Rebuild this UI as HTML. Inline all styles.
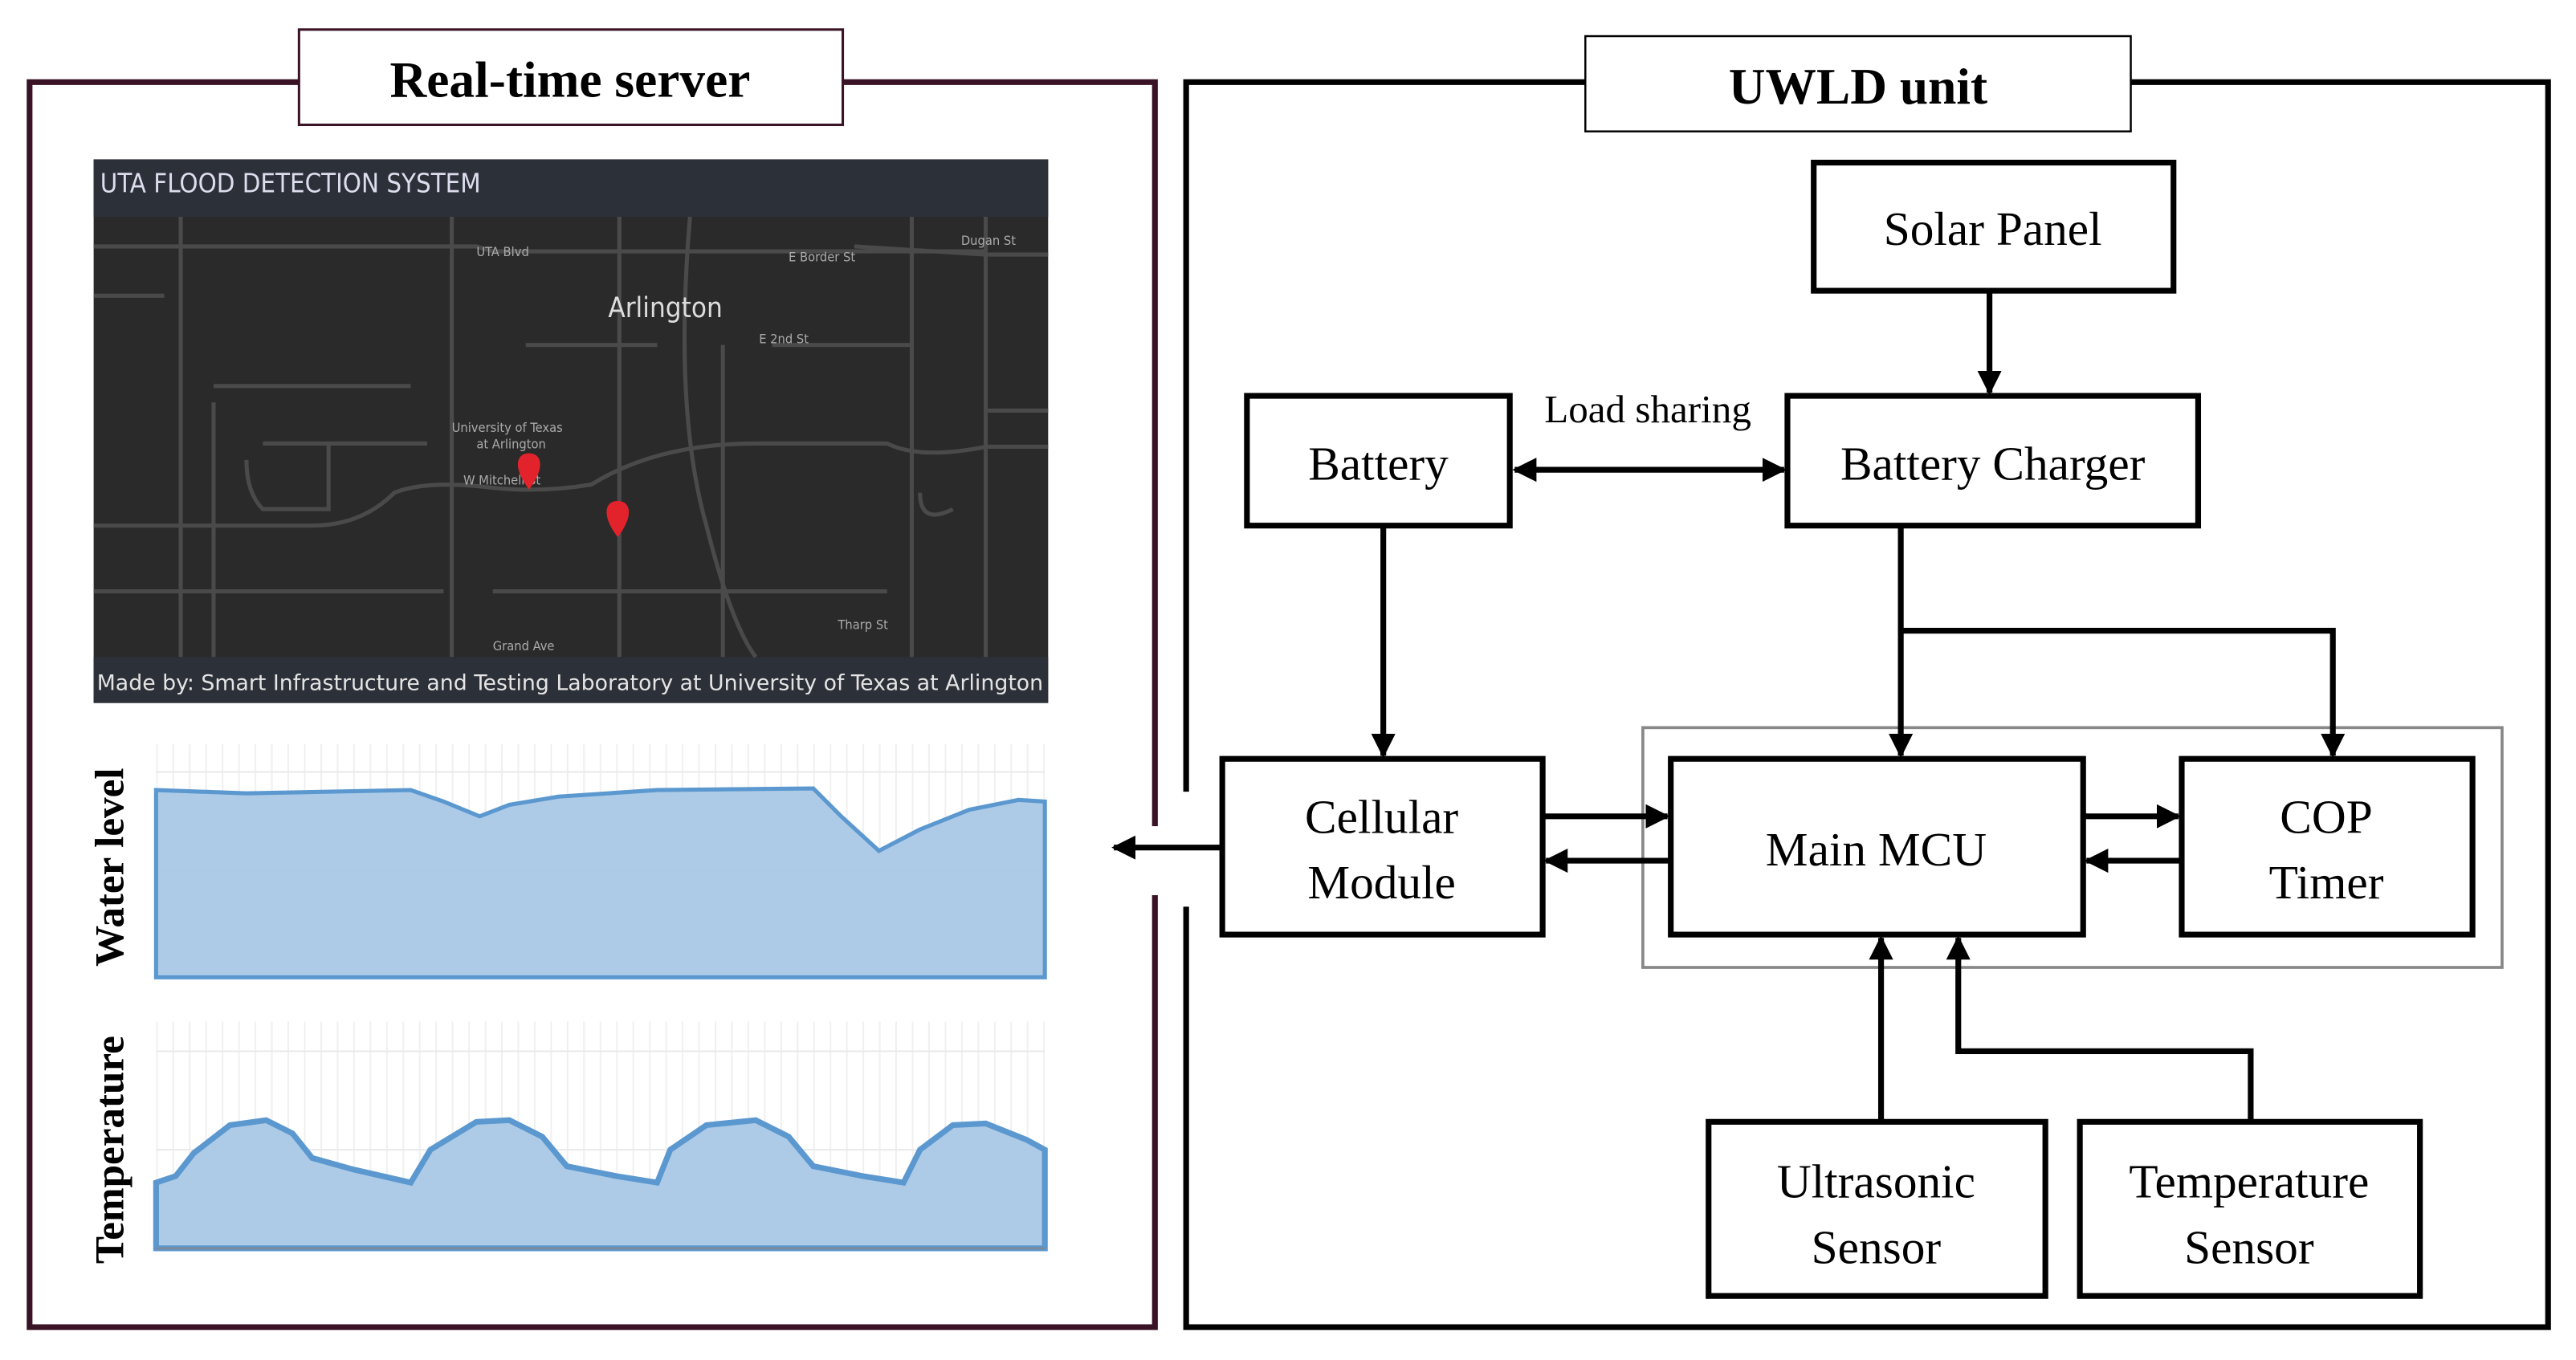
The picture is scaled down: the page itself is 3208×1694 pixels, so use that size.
<!DOCTYPE html>
<html><head><meta charset="utf-8"><style>html,body{margin:0;padding:0;background:#fff}svg{display:block}</style></head>
<body>
<svg width="3208" height="1694" viewBox="0 0 1568 828" preserveAspectRatio="none" xmlns="http://www.w3.org/2000/svg">
<defs>
<marker id="ah" viewBox="0 0 10 10" refX="9" refY="5" markerWidth="4.2" markerHeight="4.2" orient="auto-start-reverse" markerUnits="strokeWidth"><path d="M0,0 L10,5 L0,10 z" fill="#000"/></marker>
<pattern id="vg" x="95" y="0" width="10" height="828" patternUnits="userSpaceOnUse"><line x1="0.5" y1="0" x2="0.5" y2="828" stroke="#f0f0f0" stroke-width="1"/></pattern>
</defs>
<rect width="1568" height="828" fill="#fff"/>
<rect x="18" y="50" width="685" height="758" fill="none" stroke="#3a1426" stroke-width="3.5"/>
<rect x="700" y="503" width="8" height="42" fill="#fff"/>
<rect x="182" y="18" width="331" height="58" fill="#fff" stroke="#3a1426" stroke-width="1.5"/>
<text x="347" y="59" font-family="Liberation Serif, serif" font-weight="bold" font-size="31" text-anchor="middle">Real-time server</text>
<rect x="57" y="97" width="581" height="331" fill="#2a2a2a"/>
<rect x="57" y="97" width="581" height="35" fill="#2c3038"/>
<rect x="57" y="400" width="581" height="28" fill="#2c3038"/>
<text x="61" y="117" font-family="DejaVu Sans Condensed, DejaVu Sans, sans-serif" font-size="16" fill="#dde">UTA FLOOD DETECTION SYSTEM</text>
<text x="59" y="420" font-family="DejaVu Sans Condensed, DejaVu Sans, sans-serif" font-size="13.2" fill="#e4e4e4" textLength="576" lengthAdjust="spacingAndGlyphs">Made by: Smart Infrastructure and Testing Laboratory at University of Texas at Arlington</text>
<g stroke="#4a4a4a" stroke-width="2.5" fill="none">
<path d="M57 150 H290 L300 153 H600 M520 150 L600 155 H638"/>
<path d="M57 320 H190 Q220 320 240 300 Q260 292 300 297 Q330 300 360 295 Q400 270 460 270 H540 Q560 280 600 272 H638"/>
<path d="M110 132 V400 M275 132 V400 M377 132 V400 M420 132 Q410 250 430 320 Q445 380 460 400 M440 210 V400 M555 132 V400 M600 132 V400"/>
<path d="M57 180 H100 M130 235 H250 M130 245 V400 M160 270 H260 M57 360 H270 M300 360 H540 M320 210 H400 M470 210 H555 M600 250 H638 M560 300 Q560 320 580 310 M150 280 Q150 300 160 310 H200 V270"/>
</g>
<g font-family="DejaVu Sans Condensed, DejaVu Sans, sans-serif" fill="#aaa" font-size="8">
<text x="290" y="156">UTA Blvd</text><text x="480" y="159">E Border St</text><text x="585" y="149">Dugan St</text>
<text x="462" y="209">E 2nd St</text><text x="275" y="263">University of Texas</text><text x="290" y="273">at Arlington</text>
<text x="510" y="383">Tharp St</text><text x="300" y="396">Grand Ave</text><text x="282" y="295">W Mitchell St</text>
</g>
<text x="405" y="193" font-family="DejaVu Sans Condensed, DejaVu Sans, sans-serif" font-size="17" fill="#ddd" text-anchor="middle">Arlington</text>
<path d="M322 298 C312 285 314 276 322 276 C330 276 332 285 322 298z" fill="#e3232c"/>
<path d="M376 327 C366 314 368 305 376 305 C384 305 386 314 376 327z" fill="#e3232c"/>
<rect x="95" y="453" width="541" height="142" fill="url(#vg)"/>
<rect x="95" y="622" width="541" height="138" fill="url(#vg)"/>
<g stroke="#eaeaea" stroke-width="1">
<path d="M95 470 H636 M95 530 H636 M95 640 H636 M95 700 H636"/>
</g>
<path d="M95 481 L150 483 L250 481 L270 488 L292 497 L310 490 L340 485 L400 481 L495 480 L512 497 L535 518 L560 505 L590 493 L620 487 L636 488 V595 H95Z" fill="#a9c8e6" fill-opacity="0.95" stroke="#5b98cf" stroke-width="2.5"/>
<path d="M95 720 L107 716 L118 702 L140 685 L162 682 L178 690 L190 705 L215 712 L250 720 L262 700 L290 683 L310 682 L330 692 L345 710 L375 716 L400 720 L408 700 L430 685 L460 682 L480 692 L495 710 L525 716 L550 720 L560 700 L580 685 L600 684 L625 694 L636 700 V760 H95Z" fill="#a9c8e6" fill-opacity="0.95" stroke="#5b98cf" stroke-width="3.5"/>
<line x1="95" y1="760" x2="636" y2="760" stroke="#7a8a9a" stroke-width="1.5"/>
<text transform="translate(75,528) rotate(-90)" font-family="Liberation Serif, serif" font-weight="bold" font-size="25" text-anchor="middle">Water  level</text>
<text transform="translate(75,700) rotate(-90)" font-family="Liberation Serif, serif" font-weight="bold" font-size="25" text-anchor="middle">Temperature</text>
<rect x="722" y="50" width="829" height="758" fill="none" stroke="#000" stroke-width="3.5"/>
<rect x="716" y="482" width="12" height="70" fill="#fff"/>
<rect x="965" y="22" width="332" height="58" fill="#fff" stroke="#000" stroke-width="1.2"/>
<text x="1131" y="63" font-family="Liberation Serif, serif" font-weight="bold" font-size="31" text-anchor="middle">UWLD unit</text>
<rect x="1000" y="443" width="523" height="146" fill="none" stroke="#888" stroke-width="1.8"/>
<g fill="none" stroke="#000" stroke-width="3.5">
<rect x="1104" y="99" width="219" height="78"/>
<rect x="759" y="241" width="160" height="79"/>
<rect x="1088" y="241" width="250" height="79"/>
<rect x="744" y="462" width="195" height="107"/>
<rect x="1017" y="462" width="251" height="107"/>
<rect x="1328" y="462" width="177" height="107"/>
<rect x="1040" y="683" width="205" height="106"/>
<rect x="1266" y="683" width="207" height="106"/>
</g>
<g font-family="Liberation Serif, serif" font-size="29" text-anchor="middle">
<text x="1213" y="149">Solar Panel</text>
<text x="839" y="292">Battery</text>
<text x="1213" y="292">Battery Charger</text>
<text x="841" y="507">Cellular</text><text x="841" y="547">Module</text>
<text x="1142" y="527">Main MCU</text>
<text x="1416" y="507">COP</text><text x="1416" y="547">Timer</text>
<text x="1142" y="729">Ultrasonic</text><text x="1142" y="769">Sensor</text>
<text x="1369" y="729">Temperature</text><text x="1369" y="769">Sensor</text>
<text x="1003" y="257" font-size="24">Load sharing</text>
</g>
<g stroke="#000" stroke-width="3.5" fill="none" marker-end="url(#ah)">
<path d="M1211 177 V239"/>
<path d="M922 286 H1086" marker-start="url(#ah)"/>
<path d="M842 320 V460"/>
<path d="M1157 320 V460"/>
<path d="M1157 384 H1420 V460"/>
<path d="M939 497 H1015"/>
<path d="M1017 524 H941"/>
<path d="M1268 497 H1326"/>
<path d="M1328 524 H1270"/>
<path d="M1145 683 V571"/>
<path d="M1370 683 V640 H1192 V571"/>
<path d="M744 516 H678"/>
</g>
</svg>
</body></html>
